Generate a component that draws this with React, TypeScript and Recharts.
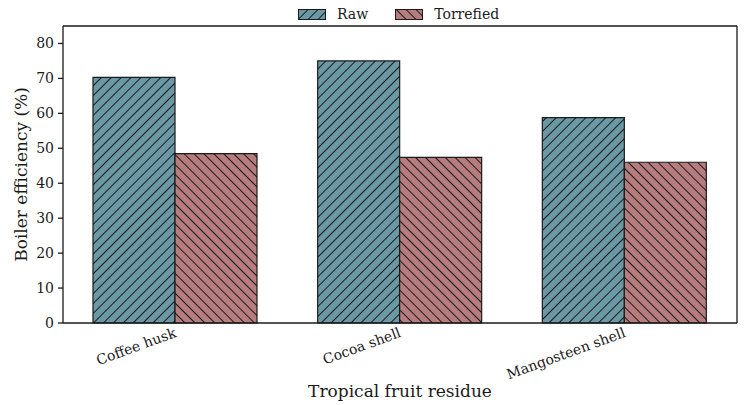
import React from "react";
import { BarChart, Bar, XAxis, YAxis } from "recharts";

const residues = ["Coffee husk", "Cocoa shell", "Mangosteen shell"];
const raw = [70.3, 75.0, 58.8];
const torrefied = [48.5, 47.4, 46.0];
const majorTicks = [0, 10, 20, 30, 40, 50, 60, 70, 80];
const minorTicks = [5, 15, 25, 35, 45, 55, 65, 75, 85];

const data = residues.map((name, i) => ({ name, raw: raw[i], torrefied: torrefied[i] }));

const FONT = "DejaVu Serif";
const INK = "#1a1a1a";
const RAW_COLOR = "#6a98a4";
const TOR_COLOR = "#b67c7e";

function Hatches() {
  return (
    <defs>
      <pattern id="hatchRaw" patternUnits="userSpaceOnUse" width="7" height="7" patternTransform="rotate(45)">
        <rect width="7" height="7" fill={RAW_COLOR} />
        <line x1="0" y1="0" x2="0" y2="7" stroke={INK} strokeWidth="2" />
      </pattern>
      <pattern id="hatchTor" patternUnits="userSpaceOnUse" width="7" height="7" patternTransform="rotate(-45)">
        <rect width="7" height="7" fill={TOR_COLOR} />
        <line x1="0" y1="0" x2="0" y2="7" stroke={INK} strokeWidth="2" />
      </pattern>
    </defs>
  );
}

function SlantTick({ x, y, payload }: any) {
  return (
    <g transform={`translate(${x - 2},${y - 5}) rotate(-20)`}>
      <text x={0} y={0} dy="0.8em" textAnchor="end" fontFamily={FONT} fontSize={14} fill={INK}>
        {payload.value}
      </text>
    </g>
  );
}

function ValueTick({ x, y, payload }: any) {
  return (
    <text x={x - 2} y={y} dy="0.35em" textAnchor="end" fontFamily={FONT} fontSize={14} fill={INK}>
      {payload.value}
    </text>
  );
}

function LegendBox() {
  const items = [
    { label: "Raw", fill: "url(#hatchRaw)" },
    { label: "Torrefied", fill: "url(#hatchTor)" },
  ];
  return (
    <div
      style={{
        position: "absolute", left: 298, top: 5, display: "flex", gap: 27,
        fontFamily: FONT, fontSize: 14, color: INK, lineHeight: "18px",
      }}
    >
      {items.map((it) => (
        <div key={it.label} style={{ display: "flex", alignItems: "center", gap: 11 }}>
          <svg width={28} height={11} style={{ display: "block" }}>
            <rect x={0.5} y={0.5} width={27} height={10} fill={it.fill} stroke={INK} strokeWidth={1} />
          </svg>
          <span>{it.label}</span>
        </div>
      ))}
    </div>
  );
}

export default function App() {
  return (
    <div style={{ position: "absolute", left: 0, top: 0, width: 745, height: 405, background: "#fff" }}>
      <BarChart
        width={745}
        height={405}
        data={data}
        margin={{ top: 25, right: 7, left: 0, bottom: 0 }}
        barCategoryGap={30}
        barGap={0}
      >
        <Hatches />
        <XAxis
          dataKey="name"
          tick={<SlantTick />}
          tickLine={false}
          interval={0}
          stroke={INK}
          strokeWidth={1.3}
          height={82}
          label={({ viewBox }: any) => (
            <text
              x={viewBox.x + viewBox.width / 2}
              y={392}
              textAnchor="middle"
              dominantBaseline="middle"
              fontFamily={FONT}
              fontSize={17}
              fill={INK}
            >
              Tropical fruit residue
            </text>
          )}
        />
        <XAxis xAxisId="top" orientation="top" dataKey="name" tick={false} tickLine={false} stroke={INK} strokeWidth={1.3} height={1} />
        <YAxis
          domain={[0, 85]}
          ticks={majorTicks}
          interval={0}
          width={62}
          stroke={INK}
          strokeWidth={1.3}
          tickSize={5}
          tick={<ValueTick />}
          label={({ viewBox }: any) => (
            <text
              x={22}
              y={viewBox.y + viewBox.height / 2}
              transform={`rotate(-90, 22, ${viewBox.y + viewBox.height / 2})`}
              textAnchor="middle"
              dominantBaseline="middle"
              fontFamily={FONT}
              fontSize={17}
              fill={INK}
            >
              Boiler efficiency (%)
            </text>
          )}
        />
        <YAxis
          yAxisId="minor"
          domain={[0, 85]}
          ticks={minorTicks}
          interval={0}
          width={1}
          axisLine={false}
          tickSize={3}
          tick={() => <g />}
          stroke={INK}
        />
        <YAxis yAxisId="right" orientation="right" domain={[0, 85]} width={1} tick={false} tickLine={false} stroke={INK} strokeWidth={1.3} />
        <Bar dataKey="raw" name="Raw" fill="url(#hatchRaw)" stroke={INK} strokeWidth={1.2} isAnimationActive={false} />
        <Bar dataKey="torrefied" name="Torrefied" fill="url(#hatchTor)" stroke={INK} strokeWidth={1.2} isAnimationActive={false} />
      </BarChart>
      <LegendBox />
    </div>
  );
}
